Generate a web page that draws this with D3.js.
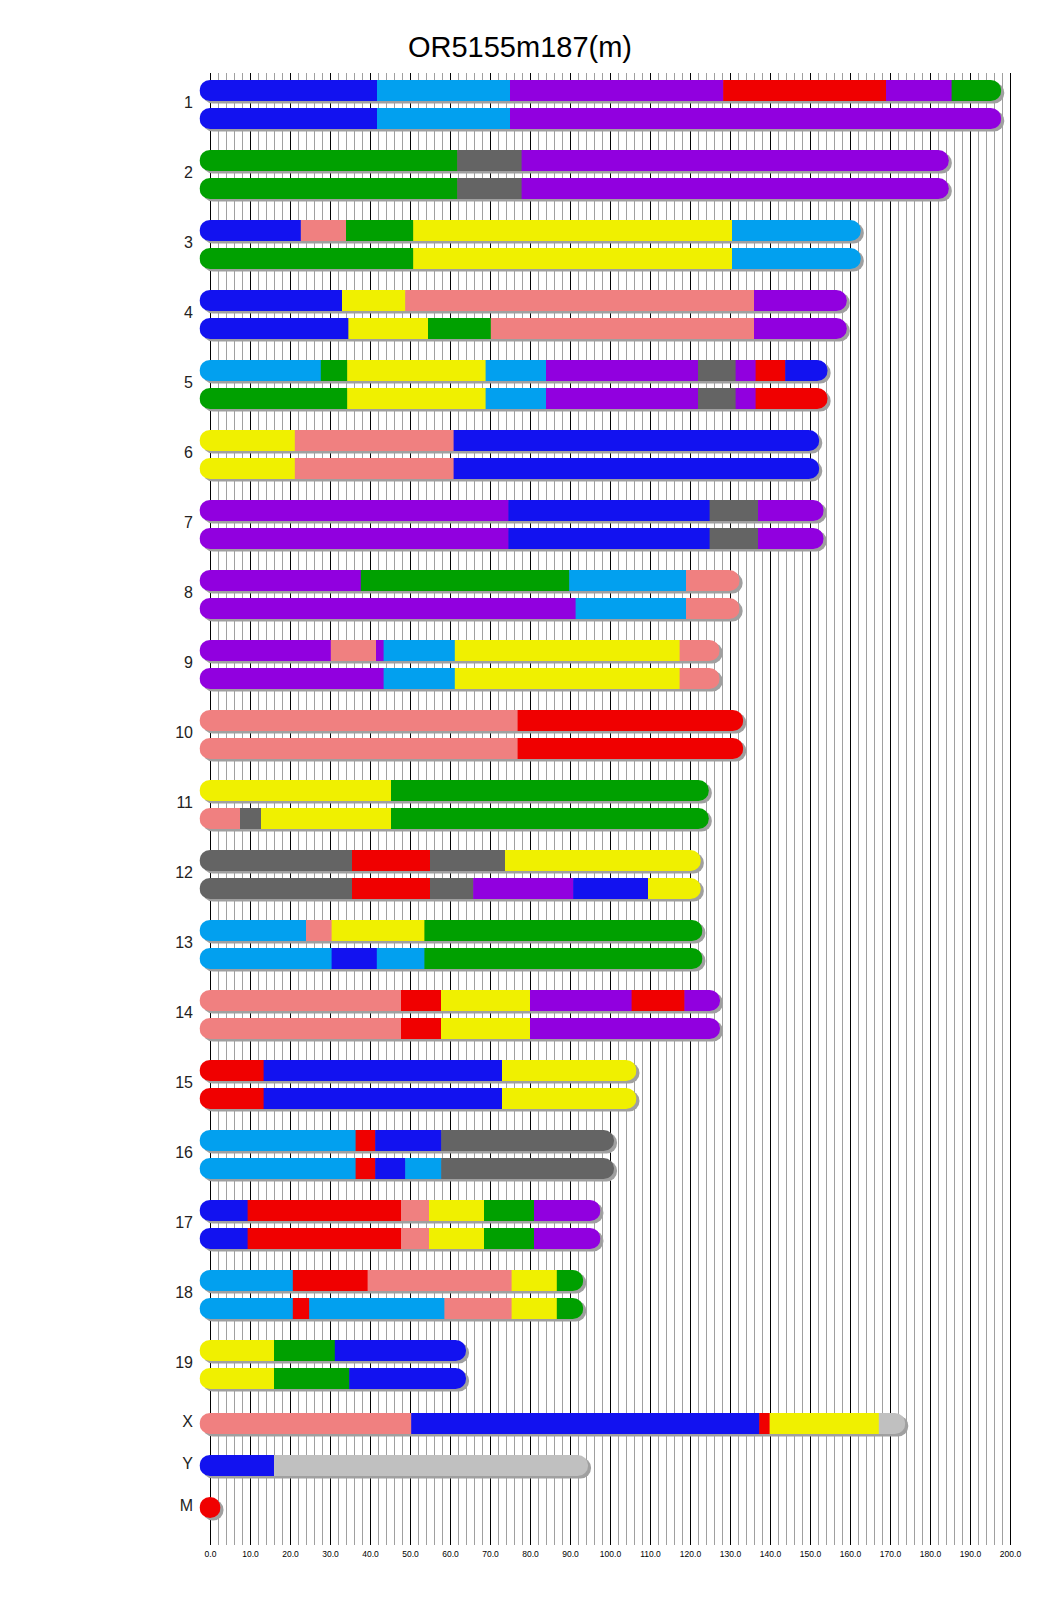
<!DOCTYPE html>
<html lang="en">
<head>
    <meta charset="UTF-8">
    <title>OR5155m187(m)</title>
    <script src="https://d3js.org/d3.v7.min.js"></script>
    <style>
        body {
            margin: 0;
            padding: 0;
            background: #fff;
            font-family: 'Liberation Sans', Arial, sans-serif;
        }
        svg { display: block; }
        .chr-label { font-size: 16px; fill: #222; }
        .tick text { font-size: 8.5px; fill: #000; }
    </style>
</head>
<body>
    <svg width="1040" height="1616"></svg>
    <script>
        // chromosome names and lengths (Mb)
        const chromNames = ["1","2","3","4","5","6","7","8","9","10","11","12","13","14","15","16","17","18","19","X","Y","M"];
        const chromLen = [195.2,182.1,160.1,156.6,151.8,149.7,150.8,129.8,124.8,130.7,122.1,120.1,120.5,124.9,104.0,98.4,95.0,90.7,61.4,171.2,91.9,0.016];

        // ancestry segments: [category, end position in Mb]
        const hapA = [
            [["B",41.75],["C",75.0],["P",128.3],["R",169.0],["P",185.4],["G",195.2]],
            [["G",61.8],["D",77.9],["P",182.1]],
            [["B",22.7],["S",34.0],["G",50.8],["Y",130.5],["C",160.1]],
            [["B",33.0],["Y",48.8],["S",136.0],["P",156.6]],
            [["C",27.7],["G",34.3],["Y",68.9],["C",84.0],["P",122.0],["D",131.4],["P",136.4],["R",143.8],["B",151.8]],
            [["Y",21.2],["S",60.9],["B",149.7]],
            [["P",74.6],["B",124.9],["D",137.0],["P",150.8]],
            [["P",37.7],["G",89.8],["C",119.0],["S",129.8]],
            [["P",30.2],["S",41.5],["P",43.4],["C",61.2],["Y",117.4],["S",124.8]],
            [["S",76.9],["R",130.7]],
            [["Y",45.25],["G",122.1]],
            [["D",35.5],["R",55.0],["D",73.75],["Y",120.1]],
            [["C",24.0],["S",30.4],["Y",53.6],["G",120.5]],
            [["S",47.75],["R",57.75],["Y",80.0],["P",105.4],["R",118.6],["P",124.9]],
            [["R",13.4],["B",73.0],["Y",104.0]],
            [["C",36.4],["R",41.3],["B",57.8],["D",98.4]],
            [["B",9.4],["R",47.75],["S",54.75],["Y",68.5],["G",81.0],["P",95.0]],
            [["C",20.7],["R",39.4],["S",75.4],["Y",86.7],["G",90.7]],
            [["Y",16.0],["G",31.2],["B",61.4]],
            [["S",50.3],["B",137.3],["R",139.9],["Y",167.2],["L",171.2]],
            [["B",16.0],["L",91.9]],
            [["R",0.016]]
        ];
        const hapB = [
            [["B",41.75],["C",75.0],["P",195.2]],
            [["G",61.8],["D",77.9],["P",182.1]],
            [["G",50.8],["Y",130.5],["C",160.1]],
            [["B",34.6],["Y",54.5],["G",70.2],["S",136.0],["P",156.6]],
            [["G",34.3],["Y",68.9],["C",84.0],["P",122.0],["D",131.4],["P",136.4],["R",151.8]],
            [["Y",21.2],["S",60.9],["B",149.7]],
            [["P",74.6],["B",124.9],["D",137.0],["P",150.8]],
            [["P",91.4],["C",119.0],["S",129.8]],
            [["P",43.4],["C",61.2],["Y",117.4],["S",124.8]],
            [["S",76.9],["R",130.7]],
            [["S",7.5],["D",12.75],["Y",45.25],["G",122.1]],
            [["D",35.5],["R",55.0],["D",65.8],["P",90.8],["B",109.5],["Y",120.1]],
            [["C",30.4],["B",41.7],["C",53.6],["G",120.5]],
            [["S",47.75],["R",57.75],["Y",80.0],["P",124.9]],
            [["R",13.4],["B",73.0],["Y",104.0]],
            [["C",36.4],["R",41.3],["B",48.8],["C",57.8],["D",98.4]],
            [["B",9.4],["R",47.75],["S",54.75],["Y",68.5],["G",81.0],["P",95.0]],
            [["C",20.7],["R",24.8],["C",58.6],["S",75.4],["Y",86.7],["G",90.7]],
            [["Y",16.0],["G",34.8],["B",61.4]],
            null, null, null
        ];

        const categories = ["B","C","P","R","G","D","Y","S","L"];
        const catColors = ["#1212f0","#02a0ef","#9100df","#f00000","#00a000","#646464","#f0f000","#f08080","#c0c0c0"];
        const axisTicks = d3.range(0, 201, 10);

        const svg = d3.select("svg");
        const color = d3.scaleOrdinal().domain(categories).range(catColors);
        const x = d3.scaleLinear().domain([0, 200]).range([210, 1010]);

        const barH = 21, rowStep = 28, groupGap = 14, r = barH / 2;
        const gridTop = 73, gridBottom = 1545;

        // title
        svg.append("text")
            .attr("x", 520).attr("y", 57)
            .attr("text-anchor", "middle")
            .style("font-size", "29px")
            .text("OR5155m187(m)");

        // grid: gray every 2, black every 10
        const grid = svg.append("g");
        grid.selectAll("line")
            .data(d3.range(0, 201, 2))
            .enter().append("line")
            .attr("x1", d => Math.round(x(d)) + 0.5)
            .attr("x2", d => Math.round(x(d)) + 0.5)
            .attr("y1", gridTop).attr("y2", gridBottom)
            .attr("stroke", d => d % 10 === 0 ? "#000" : "#a0a0a0")
            .attr("stroke-width", 1);

        // tick labels
        const axis = d3.axisBottom(x)
            .tickValues(axisTicks)
            .tickSize(0)
            .tickPadding(6)
            .tickFormat(d3.format(".1f"));
        svg.append("g")
            .attr("transform", `translate(0,${gridBottom})`)
            .call(axis)
            .call(g => g.select(".domain").remove());

        // rows layout
        const rows = [];
        let y = 80;
        chromNames.forEach((name, i) => {
            const haps = hapB[i] ? [hapA[i], hapB[i]] : [hapA[i]];
            if (name === "X") y += 3;
            const top = y;
            haps.forEach(h => {
                rows.push({ name, len: chromLen[i], segs: h, y });
                y += rowStep;
            });
            const mid = top + (haps.length * rowStep - (rowStep - barH)) / 2;
            svg.append("text")
                .attr("class", "chr-label")
                .attr("x", 193).attr("y", mid - 2)
                .attr("text-anchor", "end")
                .attr("dominant-baseline", "central")
                .text(name);
            y += groupGap;
        });

        const defs = svg.append("defs");
        const bars = svg.append("g");

        rows.forEach((row, k) => {
            const x0 = x(0) - r, x1 = x(row.len) + r;

            // shadow
            bars.append("rect")
                .attr("x", x0 + 3).attr("y", row.y + 2.5)
                .attr("width", x1 - x0).attr("height", barH)
                .attr("rx", r).attr("ry", r)
                .attr("fill", "#a0a0a0");

            defs.append("clipPath").attr("id", "clip" + k)
                .append("rect")
                .attr("x", x0).attr("y", row.y)
                .attr("width", x1 - x0).attr("height", barH)
                .attr("rx", r).attr("ry", r);

            let start = 0;
            const segs = row.segs.map((s, j) => {
                const seg = { cat: s[0], s: start, e: s[1], first: j === 0, last: j === row.segs.length - 1 };
                start = s[1];
                return seg;
            });

            bars.append("g")
                .attr("clip-path", `url(#clip${k})`)
                .selectAll("rect")
                .data(segs)
                .enter().append("rect")
                .attr("x", d => d.first ? x0 : x(d.s))
                .attr("y", row.y)
                .attr("width", d => (d.last ? x1 : x(d.e)) - (d.first ? x0 : x(d.s)) + (d.last ? 0 : 0.5))
                .attr("height", barH)
                .attr("fill", d => color(d.cat));
        });
    </script>
</body>
</html>
